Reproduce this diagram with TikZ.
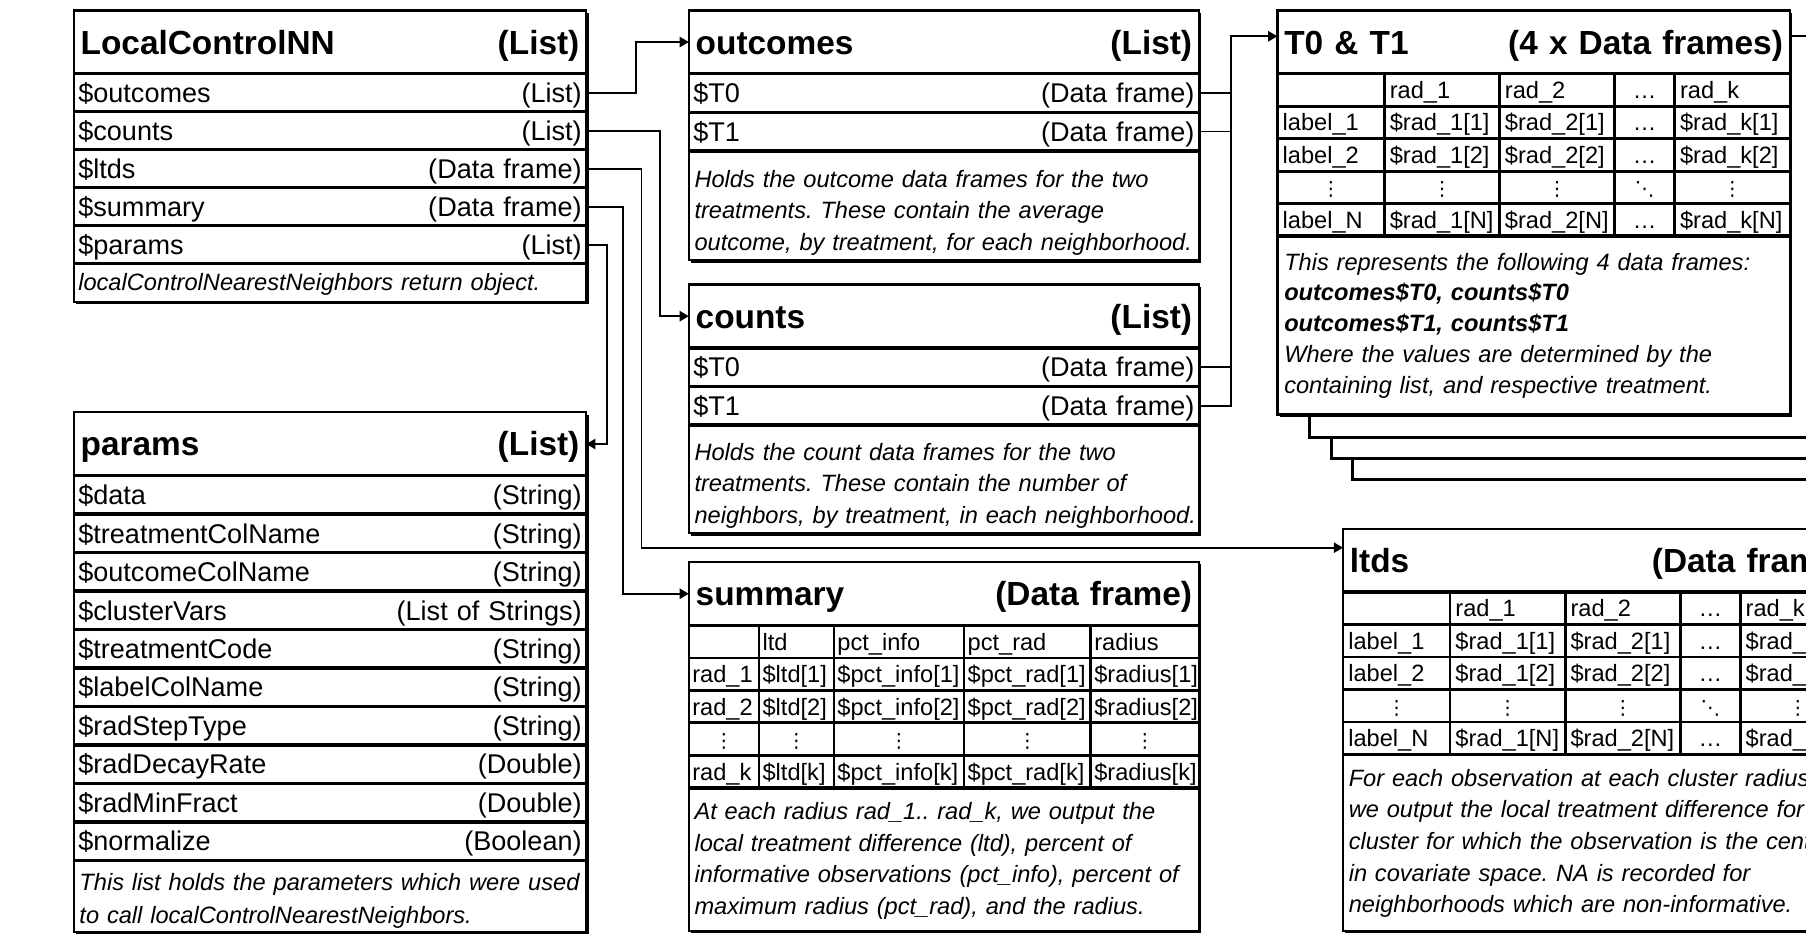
\documentclass[tikz,border=0pt]{standalone}
\usepackage{fontspec}
\setmainfont{Liberation Sans}
\newfontfamily\dvfont{DejaVu Sans}
\usetikzlibrary{matrix,arrows.meta}
\frenchspacing

\newcommand\fTitle{\fontsize{29pt}{34pt}\selectfont\bfseries}
\newcommand\fBody{\fontsize{23.5pt}{28pt}\selectfont}
\newcommand\fCell{\fontsize{20.5pt}{24pt}\selectfont}
\newcommand\fDesc{\fontsize{20.5pt}{27.5pt}\selectfont\itshape}
\newcommand\myvd{{\dvfont\fontsize{17pt}{18pt}\selectfont ⋮}}
\newcommand\mydd{{\dvfont\fontsize{17pt}{18pt}\selectfont ⋱}}
\newcommand\myhd{…}

\tikzset{
  frm/.style={line width=2pt},
  sepl/.style={line width=3pt},
  stackl/.style={line width=2.5pt},
  conn/.style={line width=1.5pt},
  arr/.style={conn, -{Triangle[length=8pt,width=9pt]}},
  ttl/.style={anchor=north west, inner xsep=6pt, inner ysep=0pt, outer sep=0pt, minimum height=55pt, text height=20.8pt, text depth=0pt, font=\fTitle},
  rw/.style={anchor=north west, inner xsep=4pt, inner ysep=0pt, outer sep=0pt, text height=16.8pt, text depth=0pt, font=\fBody},
  dsc/.style={anchor=base west, inner sep=0pt, outer sep=0pt, text width=600pt, align=left, font=\fDesc},
  tcell/.style={draw, line width=1.2pt, anchor=base, outer sep=0pt, inner xsep=4pt, inner ysep=0pt, minimum height=27pt, text height=14.7pt, text depth=0pt, font=\fCell, align=left},
  ctr/.style={align=center},
  tbl/.style={matrix of nodes, nodes in empty cells, inner sep=0pt, outer sep=0pt, column sep=0pt, row sep=0pt, anchor=north west, nodes={tcell}},
}
\newcommand\boxbg[4]{\fill (#1+2,#2+2) rectangle (#3+2,#4+2); \fill[white] (#1,#2) rectangle (#3,#4);}
\newcommand\boxfr[4]{\draw[frm] (#1,#2) rectangle (#3,#4);}

\begin{document}
\begin{tikzpicture}[x=1pt,y=-1pt]
\useasboundingbox (0,0) rectangle (1568,811);
\clip (0,0) rectangle (1568,811);

% ---------------- LocalControlNN
\boxbg{64}{9}{509}{262}
\node[ttl, text width=433pt] (lcT) at (64,9) {LocalControlNN\hfill(List)};
\node[rw, text width=437pt, minimum height=33pt] (lcOut) at (64,64) {\$outcomes\hfill(List)};
\node[rw, text width=437pt, minimum height=33pt] (lcCnt) at (64,97) {\$counts\hfill(List)};
\node[rw, text width=437pt, minimum height=33pt] (lcLtd) at (64,130) {\$ltds\hfill(Data frame)};
\node[rw, text width=437pt, minimum height=33pt] (lcSum) at (64,163) {\$summary\hfill(Data frame)};
\node[rw, text width=437pt, minimum height=33pt] (lcPar) at (64,196) {\$params\hfill(List)};
\node[dsc] (lcD) at (68,252) {localControlNearestNeighbors return object.};
\foreach \yy in {64,97,130,163,196,229} \draw[sepl] (64,\yy) -- (509,\yy);
\boxfr{64}{9}{509}{262}

% ---------------- params
\boxbg{64}{358}{509}{809}
\node[ttl, text width=433pt] (prT) at (64,358) {params\hfill(List)};
\node[rw, text width=437pt, minimum height=33.4pt] (pr1) at (64,413) {\$data\hfill(String)};
\node[rw, text width=437pt, minimum height=33.4pt] (pr2) at (64,446.4) {\$treatmentColName\hfill(String)};
\node[rw, text width=437pt, minimum height=33.4pt] (pr3) at (64,479.8) {\$outcomeColName\hfill(String)};
\node[rw, text width=437pt, minimum height=33.4pt] (pr4) at (64,513.2) {\$clusterVars\hfill(List of Strings)};
\node[rw, text width=437pt, minimum height=33.4pt] (pr5) at (64,546.6) {\$treatmentCode\hfill(String)};
\node[rw, text width=437pt, minimum height=33.4pt] (pr6) at (64,580) {\$labelColName\hfill(String)};
\node[rw, text width=437pt, minimum height=33.4pt] (pr7) at (64,613.4) {\$radStepType\hfill(String)};
\node[rw, text width=437pt, minimum height=33.4pt] (pr8) at (64,646.8) {\$radDecayRate\hfill(Double)};
\node[rw, text width=437pt, minimum height=33.4pt] (pr9) at (64,680.2) {\$radMinFract\hfill(Double)};
\node[rw, text width=437pt, minimum height=33.4pt] (pr10) at (64,713.6) {\$normalize\hfill(Boolean)};
\node[dsc, font=\fontsize{20.5pt}{28pt}\selectfont\itshape] (prD) at (69,773.5) {This list holds the parameters which were used\\to call localControlNearestNeighbors.};
\foreach \yy in {413,446.4,479.8,513.2,546.6,580,613.4,646.8,680.2,713.6,747} \draw[sepl] (64,\yy) -- (509,\yy);
\boxfr{64}{358}{509}{809}

% ---------------- outcomes
\boxbg{598}{9}{1041}{226}
\node[ttl, text width=431pt] (ocT) at (598,9) {outcomes\hfill(List)};
\node[rw, text width=435pt, minimum height=33.5pt] (ocT0) at (598,64) {\$T0\hfill(Data frame)};
\node[rw, text width=435pt, minimum height=33.5pt] (ocT1) at (598,97.5) {\$T1\hfill(Data frame)};
\node[dsc] (ocD) at (603,162.5) {Holds the outcome data frames for the two\\treatments. These contain the average\\outcome, by treatment, for each neighborhood.};
\foreach \yy in {64,97.5,131} \draw[sepl] (598,\yy) -- (1041,\yy);
\boxfr{598}{9}{1041}{226}

% ---------------- counts
\boxbg{598}{247}{1041}{463}
\node[ttl, text width=431pt] (cnT) at (598,247) {counts\hfill(List)};
\node[rw, text width=435pt, minimum height=33.5pt] (cnT0) at (598,302) {\$T0\hfill(Data frame)};
\node[rw, text width=435pt, minimum height=33.5pt] (cnT1) at (598,335.5) {\$T1\hfill(Data frame)};
\node[dsc] (cnD) at (603,399.5) {Holds the count data frames for the two\\treatments. These contain the number of\\neighbors, by treatment, in each neighborhood.};
\foreach \yy in {302,335.5,369} \draw[sepl] (598,\yy) -- (1041,\yy);
\boxfr{598}{247}{1041}{463}

% ---------------- summary
\boxbg{598}{488}{1041}{808}
\node[ttl, text width=431pt] (smT) at (598,488) {summary\hfill(Data frame)};
\matrix[tbl, nodes={inner xsep=2.5pt},
  column 1/.style={nodes={text width=54.8pt}},
  column 2/.style={nodes={text width=58.8pt}},
  column 3/.style={nodes={text width=106.8pt}},
  column 4/.style={nodes={text width=103.8pt}},
  column 5/.style={nodes={text width=87.8pt}}] (smM) at (598,543) {
  & ltd & pct\_info & pct\_rad & radius \\
  rad\_1 & \$ltd[1] & \$pct\_info[1] & \$pct\_rad[1] & \$radius[1] \\
  rad\_2 & \$ltd[2] & \$pct\_info[2] & \$pct\_rad[2] & \$radius[2] \\
  |[ctr]| \myvd & |[ctr]| \myvd & |[ctr]| \myvd & |[ctr]| \myvd & |[ctr]| \myvd \\
  rad\_k & \$ltd[k] & \$pct\_info[k] & \$pct\_rad[k] & \$radius[k] \\
};
\node[dsc] (smD) at (603,711.5) {At each radius rad\_1.. rad\_k, we output the\\local treatment difference (ltd), percent of\\informative observations (pct\_info), percent of\\maximum radius (pct\_rad), and the radius.};
\foreach \yy in {543,684} \draw[sepl] (598,\yy) -- (1041,\yy);
\boxfr{598}{488}{1041}{808}

% ---------------- T0 & T1 stack (back to front)
\fill[white] (1174,355) rectangle (1600,416);
\draw[stackl] (1174,355) -- (1174,416) -- (1600,416);
\fill[white] (1156,355) rectangle (1600,398);
\draw[stackl] (1156,355) -- (1156,398) -- (1600,398);
\fill[white] (1137,355) rectangle (1600,380);
\draw[stackl] (1137,355) -- (1137,380) -- (1600,380);
\boxbg{1109}{9}{1554}{360}
\node[ttl, text width=433pt] (tT) at (1109,9) {T0 \& T1\hfill(4 x Data frames)};
\matrix[tbl,
  column 1/.style={nodes={text width=83.8pt}},
  column 2/.style={nodes={text width=90.8pt}},
  column 3/.style={nodes={text width=90.8pt}},
  column 4/.style={nodes={text width=42.8pt, align=center}},
  column 5/.style={nodes={text width=90.8pt}}] (t0M) at (1109,64) {
  & rad\_1 & rad\_2 & \myhd & rad\_k \\
  label\_1 & \$rad\_1[1] & \$rad\_2[1] & \myhd & \$rad\_k[1] \\
  label\_2 & \$rad\_1[2] & \$rad\_2[2] & \myhd & \$rad\_k[2] \\
  |[ctr]| \myvd & |[ctr]| \myvd & |[ctr]| \myvd & \mydd & |[ctr]| \myvd \\
  label\_N & \$rad\_1[N] & \$rad\_2[N] & \myhd & \$rad\_k[N] \\
};
\node[dsc, font=\fontsize{20.5pt}{26.75pt}\selectfont\itshape] (tD) at (1115,234.5) {This represents the following 4 data frames:\\\textbf{outcomes\$T0, counts\$T0}\\\textbf{outcomes\$T1, counts\$T1}\\Where the values are determined by the\\containing list, and respective treatment.};
\foreach \yy in {64,205} \draw[sepl] (1109,\yy) -- (1554,\yy);
\boxfr{1109}{9}{1554}{360}

% ---------------- ltds
\boxbg{1166}{459}{1611}{808}
\node[ttl, text width=433pt] (ltT) at (1166,459) {ltds\hfill(Data frame)};
\matrix[tbl,
  column 1/.style={nodes={text width=83.8pt}},
  column 2/.style={nodes={text width=90.8pt}},
  column 3/.style={nodes={text width=90.8pt}},
  column 4/.style={nodes={text width=42.8pt, align=center}},
  column 5/.style={nodes={text width=90.8pt}}] (ltM) at (1166,514) {
  & rad\_1 & rad\_2 & \myhd & rad\_k \\
  label\_1 & \$rad\_1[1] & \$rad\_2[1] & \myhd & \$rad\_k[1] \\
  label\_2 & \$rad\_1[2] & \$rad\_2[2] & \myhd & \$rad\_k[2] \\
  |[ctr]| \myvd & |[ctr]| \myvd & |[ctr]| \myvd & \mydd & |[ctr]| \myvd \\
  label\_N & \$rad\_1[N] & \$rad\_2[N] & \myhd & \$rad\_k[N] \\
};
\node[dsc] (ltD) at (1171,682.5) {For each observation at each cluster radius,\\we output the local treatment difference for the\\cluster for which the observation is the center\\in covariate space. NA is recorded for\\neighborhoods which are non-informative.};
\foreach \yy in {514,655} \draw[sepl] (1166,\yy) -- (1611,\yy);
\boxfr{1166}{459}{1611}{808}

% ---------------- connectors
\draw[arr] (lcOut.east) -- ++(43,0) |- (ocT.west);
\draw[arr] (lcCnt.east) -- ++(64,0) |- (cnT.west);
\draw[arr] (lcLtd.east) -- ++(48,0) |- ([yshift=11pt]ltT.west);
\draw[arr] (lcSum.east) -- ++(32,0) |- (smT.west);
\draw[arr] (lcPar.east) -- ++(18,0) |- (prT.east);
\draw[conn] (ocT0.east) -- ++(28,0);
\draw[conn] (ocT1.east) -- ++(28,0);
\draw[conn] (cnT0.east) -- ++(28,0);
\draw[arr] (cnT1.east) -- ++(28,0) |- ([yshift=5pt]tT.west);
\coordinate (rEdge) at (1580,31.5);
\draw[conn] ([yshift=5pt]tT.east) -- (rEdge);
\end{tikzpicture}
\end{document}
